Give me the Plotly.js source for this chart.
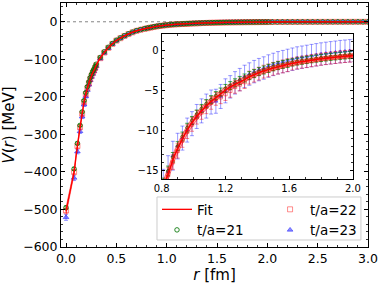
<!DOCTYPE html>
<html><head><meta charset="utf-8">
<script src="https://cdn.plot.ly/plotly-3.0.1.min.js"></script>
<style>html,body{margin:0;padding:0;background:#fff}#chart{width:381px;height:285px}</style>
</head><body><div id="chart"></div>
<script>
// ---- data ----
const rData = [0, 0.08, 0.113, 0.139, 0.16, 0.179, 0.196, 0.212, 0.227, 0.24, 0.253, 0.266, 0.277, 0.289, 0.30,
  0.34, 0.38, 0.42, 0.46, 0.50, 0.54, 0.58, 0.62, 0.66, 0.70, 0.74, 0.78,
  0.81, 0.84, 0.87, 0.90, 0.93, 0.96, 0.99,
  1.02, 1.05, 1.08, 1.11, 1.14, 1.17, 1.20, 1.23, 1.26, 1.29,
  1.32, 1.35, 1.38, 1.41, 1.44, 1.47, 1.50, 1.53, 1.56, 1.59,
  1.62, 1.65, 1.68, 1.71, 1.74, 1.77, 1.80, 1.83, 1.86, 1.89,
  1.92, 1.95, 1.98, 2.01,
  2.05, 2.10, 2.15, 2.20, 2.25, 2.30, 2.35, 2.40, 2.45, 2.50, 2.55, 2.60, 2.65, 2.70, 2.75, 2.80, 2.85, 2.90, 2.95, 3.00];

const v21 = [-495, -392, -324, -276, -240, -210, -189, -173, -160, -149, -140, -132, -126.5, -119.5, -113,
  -95, -80, -68, -58, -49.3, -43, -37.2, -32.1, -27.6, -23.6, -20.8, -18.3,
  -16.6, -15.1, -13.4, -12.0, -10.8, -9.7, -8.8,
  -8.0, -7.3, -6.7, -6.2, -5.7, -5.25, -4.8, -4.45, -4.1, -3.8,
  -3.5, -3.2, -2.95, -2.7, -2.5, -2.3, -2.1, -1.95, -1.8, -1.67,
  -1.55, -1.43, -1.33, -1.24, -1.15, -1.07, -0.99, -0.92, -0.85, -0.79,
  -0.73, -0.67, -0.62, -0.58,
  -0.54, -0.5, -0.46, -0.43, -0.4, -0.37, -0.34, -0.31, -0.29, -0.27, -0.25, -0.23, -0.21, -0.2, -0.18, -0.17, -0.15, -0.14, -0.13, -0.12];
const e21 = [4, 4, 3.5, 3, 3, 2.5, 2.5, 2, 2, 2, 2, 1.8, 1.6, 1.5, 1.5,
  1.2, 1.1, 1, 0.9, 0.8, 0.8, 0.7, 0.7, 0.6, 0.6, 0.6, 0.55,
  0.6, 0.6, 0.6, 0.55, 0.55, 0.55, 0.5,
  0.5, 0.5, 0.5, 0.5, 0.5, 0.5, 0.5, 0.5, 0.5, 0.5,
  0.5, 0.5, 0.5, 0.5, 0.5, 0.5, 0.5, 0.5, 0.5, 0.5,
  0.45, 0.45, 0.45, 0.45, 0.45, 0.45, 0.45, 0.45, 0.45, 0.45,
  0.45, 0.45, 0.45, 0.45,
  0.45, 0.45, 0.45, 0.45, 0.45, 0.45, 0.45, 0.45, 0.45, 0.45, 0.45, 0.45, 0.45, 0.45, 0.45, 0.45, 0.45, 0.45, 0.45, 0.45];

const v22 = [-503, -400, -331, -281, -245, -214, -193, -177, -164, -153, -144, -136, -130, -123, -116,
  -97, -82, -69.5, -59, -50.2, -43.8, -38, -32.8, -28.3, -24.2, -21.4, -18.9,
  -17.2, -15.6, -14.0, -12.6, -11.3, -10.2, -9.3,
  -8.4, -7.8, -7.1, -6.6, -6.1, -5.9, -5.5, -5.1, -4.6, -4.3,
  -4.0, -3.45, -3.2, -2.95, -2.7, -2.55, -2.35, -2.2, -2.05, -1.9,
  -1.75, -1.62, -1.52, -1.43, -1.33, -1.24, -1.15, -1.07, -1.0, -0.93,
  -0.87, -0.81, -0.76, -0.72,
  -0.67, -0.62, -0.58, -0.54, -0.5, -0.47, -0.44, -0.41, -0.38, -0.35, -0.32, -0.3, -0.28, -0.26, -0.24, -0.22, -0.2, -0.18, -0.16, -0.14];
const e22 = [6, 5, 5, 4.5, 4, 3.5, 3.5, 3, 3, 3, 2.5, 2.5, 2.5, 2.2, 2,
  1.8, 1.6, 1.5, 1.4, 1.3, 1.2, 1.1, 1.0, 1.0, 0.95, 0.9, 0.9,
  0.9, 0.9, 0.9, 0.9, 0.85, 0.85, 0.85,
  0.85, 0.85, 0.85, 0.8, 0.8, 0.8, 0.8, 0.8, 0.8, 0.8,
  0.8, 0.8, 0.8, 0.8, 0.8, 0.8, 0.8, 0.8, 0.8, 0.8,
  0.75, 0.75, 0.75, 0.75, 0.75, 0.75, 0.75, 0.75, 0.75, 0.75,
  0.75, 0.75, 0.75, 0.75,
  0.75, 0.75, 0.75, 0.75, 0.75, 0.75, 0.75, 0.75, 0.75, 0.75, 0.75, 0.75, 0.75, 0.75, 0.75, 0.75, 0.75, 0.75, 0.75, 0.75];

const v23 = [-521, -416, -346, -292, -253, -221, -199, -182, -168, -156, -147, -139, -132, -125, -118,
  -98.5, -83, -70.5, -59.6, -50.8, -44.2, -38.3, -33, -28.4, -24.3, -21.4, -18.8,
  -16.9, -15.2, -13.2, -12.0, -11.0, -10.0, -9.2,
  -8.3, -7.6, -7.0, -6.5, -6.4, -5.8, -5.1, -4.6, -4.1, -3.7,
  -3.3, -3.0, -2.7, -2.45, -2.25, -2.0, -1.8, -1.6, -1.45, -1.3,
  -1.15, -1.0, -0.9, -0.8, -0.7, -0.6, -0.5, -0.42, -0.35, -0.28,
  -0.2, -0.15, -0.1, -0.05,
  0.0, 0.02, 0.04, 0.05, 0.06, 0.06, 0.06, 0.05, 0.05, 0.04, 0.04, 0.03, 0.02, 0.02, 0.01, 0.0, 0.0, -0.01, -0.02, -0.02];
const e23 = [8, 7, 6, 5.5, 5, 4.5, 4, 4, 3.5, 3.5, 3.2, 3, 3, 3, 3,
  2.5, 2.3, 2.2, 2, 1.9, 1.8, 1.7, 1.6, 1.6, 1.5, 1.5, 1.5,
  2.0, 2.0, 1.8, 1.6, 1.5, 1.5, 1.5,
  1.5, 1.5, 1.5, 1.5, 1.5, 1.5, 1.5, 1.4, 1.4, 1.4,
  1.4, 1.4, 1.4, 1.4, 1.4, 1.4, 1.4, 1.4, 1.4, 1.4,
  1.4, 1.4, 1.4, 1.4, 1.4, 1.4, 1.4, 1.4, 1.4, 1.4,
  1.4, 1.4, 1.4, 1.4,
  1.4, 1.4, 1.4, 1.4, 1.4, 1.4, 1.4, 1.4, 1.4, 1.4, 1.4, 1.4, 1.4, 1.4, 1.4, 1.4, 1.4, 1.4, 1.4, 1.4];

const rFit = [0, 0.02, 0.04, 0.06, 0.08, 0.10, 0.12, 0.14, 0.16, 0.18, 0.20, 0.22, 0.24, 0.26, 0.28, 0.30,
  0.33, 0.36, 0.40, 0.45, 0.50, 0.55, 0.60, 0.65, 0.70, 0.75, 0.80, 0.84, 0.88, 0.92, 0.96,
  1.00, 1.05, 1.10, 1.15, 1.20, 1.25, 1.30, 1.35, 1.40, 1.45, 1.50, 1.55, 1.60, 1.65, 1.70,
  1.75, 1.80, 1.85, 1.90, 1.95, 2.00, 2.2, 2.4, 2.6, 2.8, 3.0];
const vFit = [-505, -478, -452, -426, -400, -357, -318, -280, -246, -213, -189, -170, -153, -139, -128, -116,
  -101, -89, -75, -61, -50, -42, -35, -29, -24, -20.5, -17.5, -15.5, -13.2, -11.5, -10,
  -8.8, -7.6, -6.6, -5.8, -5.0, -4.4, -3.9, -3.35, -2.9, -2.55, -2.25, -2.0, -1.75, -1.55, -1.4,
  -1.25, -1.1, -0.98, -0.88, -0.78, -0.7, -0.45, -0.3, -0.2, -0.13, -0.08];
const eFit = [10, 9, 8, 7, 6, 5, 4.5, 4, 3.5, 3, 2.8, 2.5, 2.2, 2, 1.8, 1.6,
  1.5, 1.4, 1.3, 1.2, 1.1, 1.0, 0.95, 0.9, 0.85, 0.8, 0.75, 0.7, 0.65, 0.6, 0.55,
  0.5, 0.45, 0.42, 0.4, 0.38, 0.36, 0.34, 0.32, 0.3, 0.3, 0.28, 0.28, 0.27, 0.27, 0.26,
  0.26, 0.25, 0.25, 0.25, 0.25, 0.25, 0.2, 0.18, 0.15, 0.12, 0.1];

const legendNames = ['Fit', 't/a=21', 't/a=22', 't/a=23'];

// ---- styles ----
const FONT = 'DejaVu Sans';
const fitLo = vFit.map((v, i) => v - eFit[i]);
const fitHi = vFit.map((v, i) => v + eFit[i]);

function dataTrace(y, e, name, mcolor, ecolor, symbol, size, xa, ya, show, leg) {
  return {
    type: 'scatter', mode: 'markers', x: rData, y: y, name: name,
    xaxis: xa, yaxis: ya, showlegend: show, legend: leg,
    marker: {symbol: symbol, size: size, color: mcolor, line: {color: mcolor, width: 1}},
    error_y: {type: 'data', array: e, visible: true, color: ecolor, thickness: 1, width: 2}
  };
}
function fitTraces(xa, ya, show, lw) {
  return [
    {type: 'scatter', mode: 'lines', x: rFit, y: fitLo, xaxis: xa, yaxis: ya, showlegend: false, hoverinfo: 'skip',
     line: {color: 'rgba(255,0,0,0.6)', width: 0.8, shape: 'spline', smoothing: 0.8}},
    {type: 'scatter', mode: 'lines', x: rFit, y: fitHi, xaxis: xa, yaxis: ya, showlegend: false, hoverinfo: 'skip',
     fill: 'tonexty', fillcolor: 'rgba(255,0,0,0.35)',
     line: {color: 'rgba(255,0,0,0.6)', width: 0.8, shape: 'spline', smoothing: 0.8}},
    {type: 'scatter', mode: 'lines', x: rFit, y: vFit, xaxis: xa, yaxis: ya, name: legendNames[0], showlegend: show, legend: 'legend',
     line: {color: '#ff0000', width: lw, shape: 'spline', smoothing: 0.8}}
  ];
}
function allTraces(xa, ya, show, ms, lw) {
  return [
    dataTrace(v23, e23, legendNames[3], 'rgba(0,0,255,0.45)', 'rgba(0,0,255,0.4)', 'triangle-up', ms, xa, ya, show, 'legend2'),
    dataTrace(v22, e22, legendNames[2], 'rgba(255,0,0,0.45)', 'rgba(255,0,0,0.45)', 'square-open', ms, xa, ya, show, 'legend2'),
    dataTrace(v21, e21, legendNames[1], 'rgba(0,115,0,0.85)', 'rgba(0,128,0,0.7)', 'circle-open', ms - 0.5, xa, ya, show, 'legend')
  ].concat(fitTraces(xa, ya, show, lw));
}

const traces = allTraces('x', 'y', true, 5, 1.3).concat(allTraces('x2', 'y2', false, 3.5, 1.6));

const axBase = {
  showline: true, linecolor: 'black', linewidth: 1, mirror: 'ticks',
  ticks: 'inside', ticklen: 4, tickwidth: 1, tickcolor: 'black',
  showgrid: false, zeroline: false,
  tickfont: {family: FONT, size: 12.5, color: 'black'}
};
const minorBase = {ticks: 'inside', ticklen: 2, tickwidth: 0.8, tickcolor: 'black', showgrid: false};
const legBase = {
  orientation: 'v', yanchor: 'top', y: 0.217, xanchor: 'left',
  bgcolor: 'rgba(0,0,0,0)', borderwidth: 0, traceorder: 'reversed',
  font: {family: FONT, size: 13.5, color: 'black'}
};

const layout = {
  width: 381, height: 285,
  margin: {l: 61, r: 13, t: 3, b: 38},
  paper_bgcolor: 'white', plot_bgcolor: 'white',
  font: {family: FONT, color: 'black'},
  xaxis: Object.assign({}, axBase, {
    range: [-0.05, 3.0], tick0: 0, dtick: 0.5, tickformat: '.1f',
    minor: Object.assign({}, minorBase, {dtick: 0.1, tick0: 0}),
    title: {text: '<i>r</i> [fm]', font: {family: FONT, size: 15, color: 'black'}, standoff: 3}
  }),
  yaxis: Object.assign({}, axBase, {
    range: [-600, 50], tick0: 0, dtick: 100,
    minor: Object.assign({}, minorBase, {dtick: 20, tick0: 0}),
    title: {text: '<i>V</i>(<i>r</i>) [MeV]', font: {family: FONT, size: 15, color: 'black'}, standoff: 4}
  }),
  xaxis2: Object.assign({}, axBase, {
    domain: [0.328, 0.951], anchor: 'y2',
    range: [0.8, 2.0], tick0: 0.8, dtick: 0.4, tickformat: '.1f', ticklen: 3,
    tickfont: {family: FONT, size: 10, color: 'black'},
    minor: Object.assign({}, minorBase, {dtick: 0.1, tick0: 0.8})
  }),
  yaxis2: Object.assign({}, axBase, {
    domain: [0.279, 0.873], anchor: 'x2',
    range: [-16.1, 2], tick0: 0, dtick: 5, ticklen: 3,
    tickfont: {family: FONT, size: 10, color: 'black'},
    minor: Object.assign({}, minorBase, {dtick: 1, tick0: 0})
  }),
  shapes: [
    {type: 'line', xref: 'x domain', yref: 'y', x0: 0, x1: 1, y0: 0, y1: 0, layer: 'below',
     line: {color: '#666666', width: 0.8, dash: 'dot'}},
    {type: 'line', xref: 'x2 domain', yref: 'y2', x0: 0, x1: 1, y0: 0, y1: 0, layer: 'below',
     line: {color: '#333333', width: 0.8, dash: 'dash'}},
    {type: 'rect', xref: 'paper', yref: 'paper', x0: 0.3127, x1: 0.977, y0: 0.0287, y1: 0.205, layer: 'above',
     fillcolor: 'white', line: {color: '#cccccc', width: 1}}
  ],
  legend: Object.assign({}, legBase, {x: 0.3127}),
  legend2: Object.assign({}, legBase, {x: 0.681}),
  showlegend: true
};

Plotly.newPlot('chart', traces, layout, {staticPlot: true, displayModeBar: false});
</script>
</body></html>
